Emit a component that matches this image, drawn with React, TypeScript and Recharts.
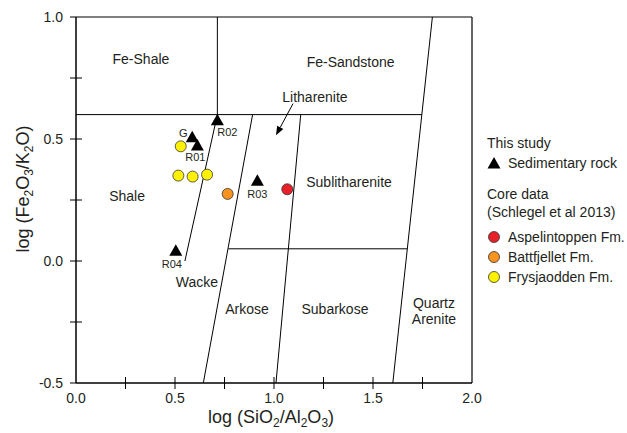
import { ScatterChart, Scatter, XAxis, YAxis, ReferenceLine, Legend } from "recharts";

const FONT = '"Liberation Sans", Arial, sans-serif';
const INK = "#231f20";

// this study
const sampleNames = ["G", "R01", "R02", "R03", "R04"];
const sampleSi = [0.587, 0.613, 0.714, 0.916, 0.504];
const sampleFe = [0.507, 0.473, 0.577, 0.329, 0.042];

// core data (Schlegel et al 2013)
const aspelSi = [1.067];
const aspelFe = [0.294];
const battSi = [0.766];
const battFe = [0.275];
const frysSi = [0.529, 0.517, 0.589, 0.662];
const frysFe = [0.47, 0.35, 0.346, 0.354];

// field boundaries as [x1, y1, x2, y2]
const boundaries = [
  [0, 0.6, 1.747, 0.6],
  [0.714, 0.6, 0.714, 1.0],
  [1.8, 1.0, 1.6, -0.5],
  [0.714, 0.6, 0.55, 0.0],
  [0.892, 0.6, 0.643, -0.5],
  [1.135, 0.6, 1.01, -0.5],
  [0.769, 0.05, 1.673, 0.05],
];
const litharArrow = [1.096, 0.645, 1.01, 0.515];

const fieldNames = ["Fe-Shale", "Fe-Sandstone", "Litharenite", "Shale", "Sublitharenite", "Wacke", "Arkose", "Subarkose", "Quartz", "Arenite"];
const fieldSi = [0.328, 1.387, 1.207, 0.258, 1.379, 0.611, 0.864, 1.308, 1.808, 1.808];
const fieldFe = [0.829, 0.817, 0.673, 0.268, 0.325, -0.085, -0.196, -0.196, -0.171, -0.24];

const xTicks = [0, 0.25, 0.5, 0.75, 1, 1.25, 1.5, 1.75, 2];
const yTicks = [-0.5, -0.25, 0, 0.25, 0.5, 0.75, 1];

const toRows = (si: number[], fe: number[], names?: string[]) =>
  si.map((v, i) => ({ si: v, fe: fe[i], name: names ? names[i] : "" }));

const samples = toRows(sampleSi, sampleFe, sampleNames);
const aspel = toRows(aspelSi, aspelFe);
const batt = toRows(battSi, battFe);
const frys = toRows(frysSi, frysFe);
const fields = toRows(fieldSi, fieldFe, fieldNames);

// label nudges (px) for the sample names
const nameOffset: Record<string, [number, number]> = {
  G: [-9, -4],
  R01: [-2, 12],
  R02: [10, 12],
  R03: [0, 13],
  R04: [-4, 13],
};

const XTick = (props: any) => {
  const { x, y, payload } = props;
  const v = payload.value;
  const inner = v > 0 && v < 2;
  return (
    <g>
      {inner && <line x1={x} x2={x} y1={y - 6} y2={y + 6} stroke="#000" strokeWidth={1} />}
      {Math.abs(v * 2 - Math.round(v * 2)) < 1e-6 && (
        <text x={x} y={y + 20} textAnchor="middle" fontSize={14} fill={INK} fontFamily={FONT}>
          {v.toFixed(1)}
        </text>
      )}
    </g>
  );
};

const YTick = (props: any) => {
  const { x, y, payload } = props;
  const v = payload.value;
  const inner = v > -0.5 && v < 1;
  return (
    <g>
      <line x1={x - 6} x2={inner ? x + 6 : x} y1={y} y2={y} stroke="#000" strokeWidth={1} />
      {Math.abs(v * 2 - Math.round(v * 2)) < 1e-6 && (
        <text x={x - 13} y={y + 5} textAnchor="end" fontSize={14} fill={INK} fontFamily={FONT}>
          {v.toFixed(1)}
        </text>
      )}
    </g>
  );
};

const XTitle = (props: any) => {
  const vb = props.viewBox;
  const cx = vb.x + vb.width / 2 - 3;
  return (
    <text x={cx} y={423} textAnchor="middle" fontSize={18} fill={INK} fontFamily={FONT}>
      log (SiO<tspan dy={4} fontSize={12}>2</tspan>
      <tspan dy={-4}>/Al</tspan>
      <tspan dy={4} fontSize={12}>2</tspan>
      <tspan dy={-4}>O</tspan>
      <tspan dy={4} fontSize={12}>3</tspan>
      <tspan dy={-4}>)</tspan>
    </text>
  );
};

const YTitle = () => {
  const cx = 29;
  const cy = 189;
  return (
    <text x={cx} y={cy} textAnchor="middle" fontSize={18} fill={INK} fontFamily={FONT} transform={`rotate(-90, ${cx}, ${cy})`}>
      log (Fe<tspan dy={4} fontSize={12}>2</tspan>
      <tspan dy={-4}>O</tspan>
      <tspan dy={4} fontSize={12}>3</tspan>
      <tspan dy={-4}>/K</tspan>
      <tspan dy={4} fontSize={12}>2</tspan>
      <tspan dy={-4}>O)</tspan>
    </text>
  );
};

const Triangle = (props: any) => {
  const { cx, cy, payload } = props;
  const off = nameOffset[payload.name] || [0, 12];
  return (
    <g>
      <polygon points={`${cx},${cy - 6.5} ${cx + 6.5},${cy + 5} ${cx - 6.5},${cy + 5}`} fill="#000" />
      <text x={cx + off[0]} y={cy + off[1]} dy="0.35em" textAnchor="middle" fontSize={11} fill={INK} fontFamily={FONT}>
        {payload.name}
      </text>
    </g>
  );
};

const dot = (fill: string) => (props: any) => (
  <circle cx={props.cx} cy={props.cy} r={5.5} fill={fill} stroke="#333" strokeWidth={0.8} />
);

const FieldLabel = (props: any) => (
  <text x={props.cx} y={props.cy} dy="0.35em" textAnchor="middle" fontSize={14} fill={INK} fontFamily={FONT}>
    {props.payload.name}
  </text>
);

const ArrowShape = (props: any) => {
  const { x1, y1, x2, y2 } = props;
  const a = Math.atan2(y2 - y1, x2 - x1);
  const len = 9;
  const w = 3.5;
  const bx = x2 - len * Math.cos(a);
  const by = y2 - len * Math.sin(a);
  return (
    <g>
      <line x1={x1} y1={y1} x2={bx} y2={by} stroke="#000" strokeWidth={1} />
      <polygon
        points={`${x2},${y2} ${bx + w * Math.sin(a)},${by - w * Math.cos(a)} ${bx - w * Math.sin(a)},${by + w * Math.cos(a)}`}
        fill="#000"
      />
    </g>
  );
};

const swatch = (fill: string) => (
  <svg width={14} height={14} style={{ display: "block" }}>
    <circle cx={7} cy={7} r={5.5} fill={fill} stroke="#333" strokeWidth={0.8} />
  </svg>
);

const LegendBox = () => {
  const row = (top: number, icon: any, label: string) => (
    <div style={{ display: "flex", alignItems: "center", height: 18, marginTop: top }}>
      <div style={{ width: 21 }}>{icon}</div>
      <span>{label}</span>
    </div>
  );
  return (
    <div style={{ fontFamily: FONT, fontSize: 14, color: INK, lineHeight: "18px", whiteSpace: "nowrap" }}>
      <div style={{ height: 18 }}>This study</div>
      {row(
        2,
        <svg width={14} height={14} style={{ display: "block" }}>
          <polygon points="7,1 13.5,12.5 0.5,12.5" fill="#000" />
        </svg>,
        "Sedimentary rock"
      )}
      <div style={{ height: 18, marginTop: 13 }}>Core data</div>
      <div style={{ height: 18 }}>(Schlegel et al 2013)</div>
      {row(7, swatch("#e8202a"), "Aspelintoppen Fm.")}
      {row(2, swatch("#f7931e"), "Battfjellet Fm.")}
      {row(2, swatch("#fff200"), "Frysjaodden Fm.")}
    </div>
  );
};

export default function App() {
  return (
    <div style={{ position: "absolute", left: 0, top: 0, fontFamily: FONT }}>
      <ScatterChart width={627} height={433} margin={{ top: 17, right: 155, bottom: 20, left: 36 }}>
        <XAxis
          type="number"
          dataKey="si"
          domain={[0, 2]}
          ticks={xTicks}
          interval={0}
          tick={XTick}
          tickLine={false}
          tickSize={0}
          tickMargin={0}
          height={30}
          axisLine={{ stroke: "#000", strokeWidth: 1.5 }}
          label={<XTitle />}
        />
        <YAxis
          type="number"
          dataKey="fe"
          domain={[-0.5, 1]}
          ticks={yTicks}
          interval={0}
          tick={YTick}
          tickLine={false}
          tickSize={0}
          tickMargin={0}
          width={40}
          axisLine={{ stroke: "#000", strokeWidth: 1.5 }}
          label={<YTitle />}
        />
        <ReferenceLine y={1} stroke="#000" strokeWidth={1.2} />
        <ReferenceLine x={2} stroke="#000" strokeWidth={1.2} />
        {boundaries.map((b, i) => (
          <ReferenceLine
            key={i}
            segment={[
              { x: b[0], y: b[1] },
              { x: b[2], y: b[3] },
            ]}
            stroke="#000"
            strokeWidth={1}
          />
        ))}
        <ReferenceLine
          segment={[
            { x: litharArrow[0], y: litharArrow[1] },
            { x: litharArrow[2], y: litharArrow[3] },
          ]}
          shape={ArrowShape}
        />
        <Scatter name="fields" data={fields} shape={FieldLabel} isAnimationActive={false} legendType="none" />
        <Scatter name="Frysjaodden Fm." data={frys} shape={dot("#fff200")} isAnimationActive={false} />
        <Scatter name="Battfjellet Fm." data={batt} shape={dot("#f7931e")} isAnimationActive={false} />
        <Scatter name="Aspelintoppen Fm." data={aspel} shape={dot("#e8202a")} isAnimationActive={false} />
        <Scatter name="Sedimentary rock" data={samples} shape={Triangle} isAnimationActive={false} />
        <Legend
          layout="vertical"
          align="center"
          verticalAlign="middle"
          content={() => <LegendBox />}
          wrapperStyle={{ left: 487, top: 134, width: 140 }}
        />
      </ScatterChart>
    </div>
  );
}
